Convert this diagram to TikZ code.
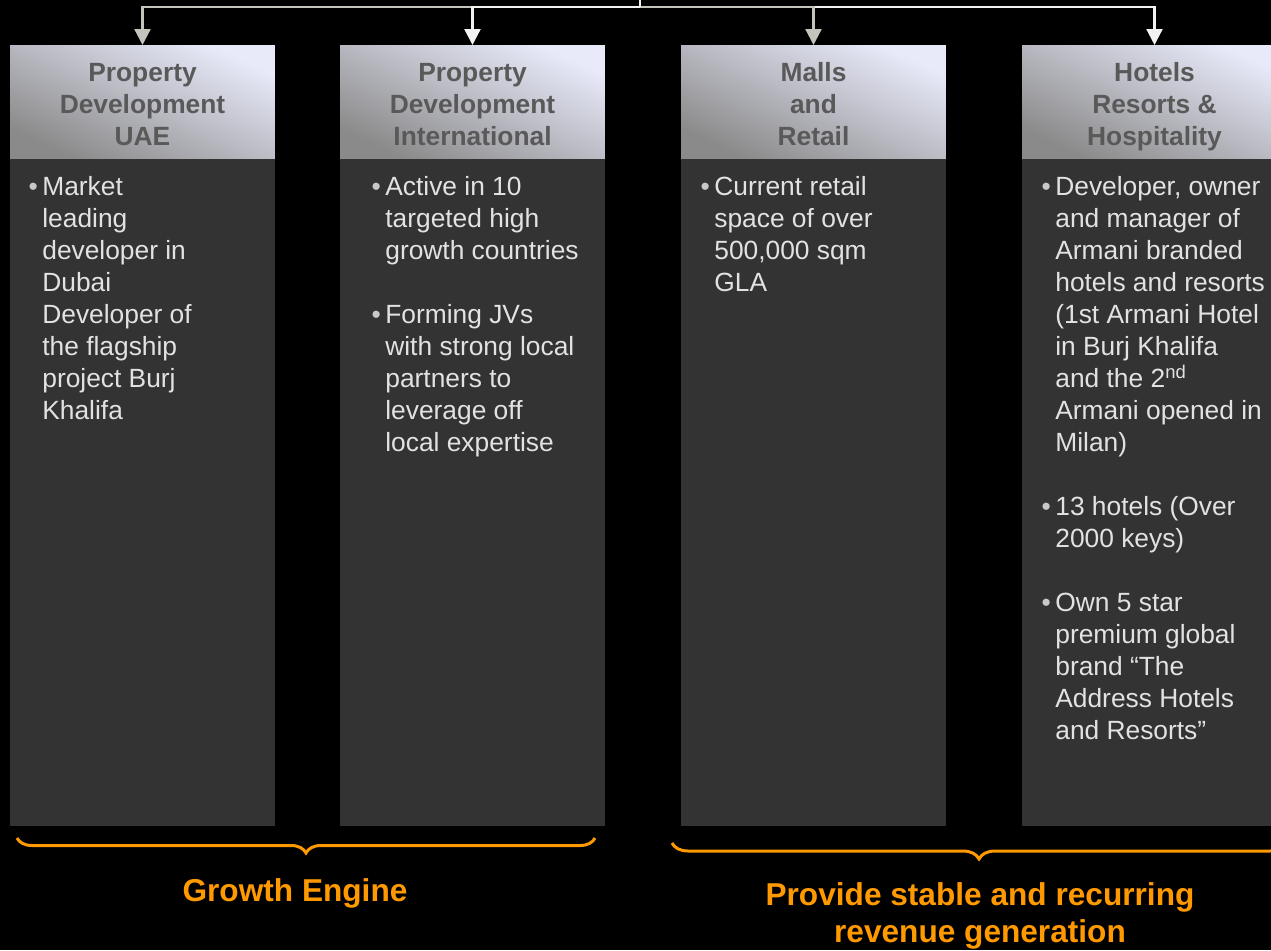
\documentclass[tikz,border=0pt]{standalone}
\usepackage{fontspec}
\setmainfont{Liberation Sans}
\usetikzlibrary{positioning,arrows.meta,decorations.pathreplacing}

\definecolor{hdlight}{HTML}{E8EAFA}
\definecolor{hddark}{HTML}{8A8A8A}
\definecolor{hdtext}{HTML}{595959}
\definecolor{panelgray}{HTML}{333333}
\definecolor{bodytext}{HTML}{E2E2E2}
\definecolor{bulletgray}{HTML}{C8C8C8}
\definecolor{linkgray}{HTML}{C4C4BC}
\definecolor{linkwhite}{HTML}{F2F2F2}
\definecolor{accent}{HTML}{FF9900}

% hanging bullet in front of a line
\newcommand{\bul}{\llap{\textcolor{bulletgray}{\textbullet}\hspace{2.5pt}}}

\begin{document}
\begin{tikzpicture}[x=0.02cm, y=-0.02cm,
    header/.style={anchor=north, minimum width=5.3cm, minimum height=2.26cm, inner sep=0pt,
      top color=hdlight, bottom color=hddark, shading angle=-25,
      text height=50pt, text depth=0pt,
      text=hdtext, align=center, font=\fontsize{15}{18.2}\selectfont\bfseries},
    panel/.style={fill=panelgray, minimum width=5.3cm, minimum height=13.34cm, inner sep=0pt},
    bodytext/.style={anchor=north west, inner sep=0pt, align=left, text=bodytext,
      font=\fontsize{15}{18.2}\selectfont},
    link/.style={line width=1.3pt, -{Triangle[width=0.32cm,length=0.32cm]}},
    curly/.style={draw=accent, line width=1.7pt, decorate,
      decoration={brace, mirror, amplitude=#1}},
    caption/.style={text=accent, align=center, font=\fontsize{18}{21}\selectfont\bfseries}]

    \useasboundingbox (0,0) rectangle (1271,950);
    \fill[black] (0,0) rectangle (1271,950);
    \clip (0,0) rectangle (1271,950);

    % Business segments
    \node[header] (hd1) at (142.5,45) {Property\\Development\\UAE};
    \node[header] (hd2) at (472.5,45) {Property\\Development\\International};
    \node[header] (hd3) at (813.5,45) {Malls\\and\\Retail};
    \node[header] (hd4) at (1154.5,45) {Hotels\\Resorts \&\\Hospitality};

    \node[panel, below=0pt of hd1] (bd1) {};
    \node[panel, below=0pt of hd2] (bd2) {};
    \node[panel, below=0pt of hd3] (bd3) {};
    \node[panel, below=0pt of hd4] (bd4) {};

    % Panel texts
    \node[bodytext] (tx1) at (42,176) {\bul Market\\leading\\developer in\\Dubai\\
      Developer of\\the flagship\\project Burj\\Khalifa};
    \node[bodytext] (tx2) at (385,176) {\bul Active in 10\\targeted high\\growth countries\\[18.2pt]
      \bul Forming JVs\\with strong local\\partners to\\leverage off\\local expertise};
    \node[bodytext] (tx3) at (714,176) {\bul Current retail\\space of over\\500,000 sqm\\GLA};
    \node[bodytext] (tx4) at (1055,176) {\bul Developer, owner\\and manager of\\Armani branded\\
      hotels and resorts\\(1st Armani Hotel\\in Burj Khalifa\\and the 2\textsuperscript{nd}\\
      Armani opened in\\Milan)\\[18.2pt]
      \bul 13 hotels (Over\\2000 keys)\\[18.2pt]
      \bul Own 5 star\\premium global\\brand “The\\Address Hotels\\and Resorts”};

    % Connectors from the top
    \coordinate (root) at (640,-20);
    \coordinate (hub) at (640,7);
    \draw[link, linkgray] (root) -- (hub) -| (hd1.north);
    \draw[link, linkwhite] (root) -- (hub) -| (hd2.north);
    \draw[link, linkwhite] (root) -- (hub) -| (hd4.north);
    \draw[link, linkgray] (hub) -| (hd3.north);
    \draw[line width=1.3pt, linkwhite] (root) -- (hub);

    % Groupings
    \coordinate (g1l) at (17,838);
    \coordinate (g1r) at (595,838);
    \coordinate (g2l) at (672,843);
    \coordinate (g2r) at (1286,843);
    \draw[curly=0.3cm] (g1l) -- (g1r);
    \draw[curly=0.32cm] (g2l) -- (g2r);

    \node[caption] (lbl1) at (295,893) {Growth Engine};
    \node[caption] (lbl2) at (980,916) {Provide stable and recurring\\revenue generation};
\end{tikzpicture}
\end{document}
